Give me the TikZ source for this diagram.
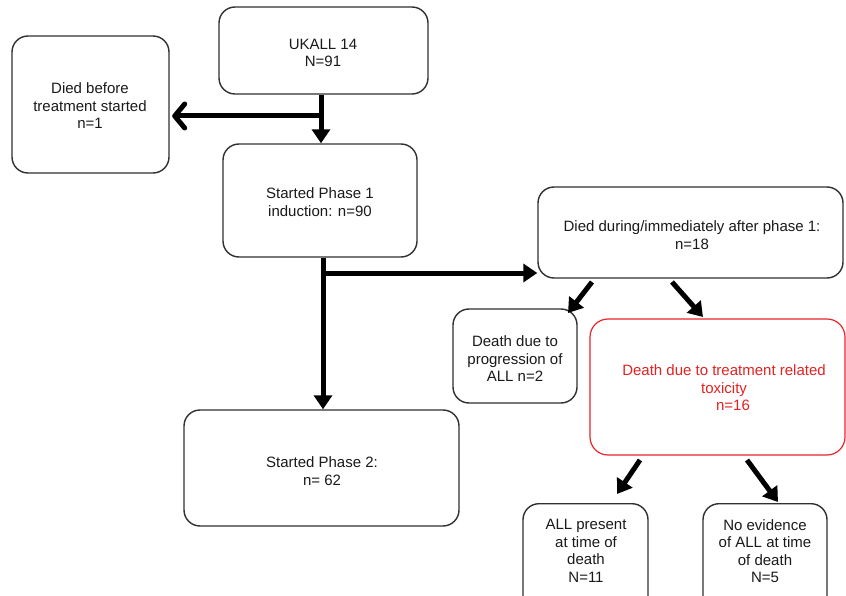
\documentclass[tikz,border=0pt]{standalone}
\usepackage{fontspec}
\setmainfont{Liberation Sans}
\usetikzlibrary{arrows.meta}
\definecolor{boxline}{HTML}{303030}
\definecolor{redline}{HTML}{E8262B}
\definecolor{redtext}{HTML}{E32222}
\definecolor{txtcol}{HTML}{1A1A1A}
\tikzset{
  box/.style={draw=boxline, line width=1.4pt, rounded corners=16pt, fill=white, inner sep=0pt},
  redbox/.style={draw=redline, line width=1.2pt, rounded corners=18pt, inner sep=0pt},
  txt/.style={align=center, text=txtcol, font=\fontsize{15pt}{17.5pt}\selectfont, inner sep=0pt},
  flow/.style={line width=5pt, black},
  arrT/.style={flow, -{Triangle[length=14pt,width=18pt]}},
  arrB/.style={flow, -{Straight Barb[length=10pt,width=24pt,line cap=round,line join=round]}},
}
\begin{document}
\begin{tikzpicture}[x=1pt,y=-1pt]
\clip (0,0) rectangle (846,596);
\fill[white] (0,0) rectangle (846,596);
% boxes
\node[box, minimum width=209pt, minimum height=87pt] (uk) at (323.5,50.5) {};
\node[txt] (ukT) at (323,53) {UKALL 14\\N=91};
\node[box, minimum width=157pt, minimum height=137pt] (died0) at (90.5,104.5) {};
\node[txt] (died0T) at (90,106) {Died before\\treatment started\\n=1};
\node[box, minimum width=194pt, minimum height=113pt] (ph1) at (320,200.5) {};
\node[txt] (ph1T) at (320,202) {Started Phase 1\\induction: n=90};
\node[box, minimum width=305pt, minimum height=91pt] (dd) at (690.5,232.5) {};
\node[txt] (ddT) at (692,235) {Died during/immediately after phase 1:\\n=18};
\node[box, minimum width=124pt, minimum height=94pt] (prog) at (515,356) {};
\node[txt] (progT) at (515,359) {Death due to\\progression of\\ALL n=2};
\node[redbox, minimum width=255pt, minimum height=136pt] (tox) at (717.5,387) {};
\node[txt, text=redtext] (toxT) at (724,388) {Death due to treatment related\\toxicity\\\hspace*{18pt}n=16};
\node[box, minimum width=275pt, minimum height=116pt] (ph2) at (321.5,468) {};
\node[txt] (ph2T) at (322,471) {Started Phase 2:\\n= 62};
\node[box, minimum width=125pt, minimum height=130pt, anchor=north] (allp) at (585.5,503) {};
\node[txt] (allpT) at (586,551) {ALL present\\at time of\\death\\N=11};
\node[box, minimum width=124pt, minimum height=130pt, anchor=north] (noev) at (765,503) {};
\node[txt] (noevT) at (765,551) {No evidence\\of ALL at time\\of death\\N=5};
% junctions
\coordinate (j1) at (321,116);
\coordinate (j2) at (323,273);
\draw[arrT] (uk.south -| j1) -- (ph1.north -| j1);
\draw[arrB] (j1) -- ([xshift=2.5pt]died0.east |- j1);
\draw[arrT] (ph1.south -| j2) -- (ph2.north -| j2);
\draw[arrT] ([xshift=-2.5pt]j2) -- (dd.west |- j2);
% diagonal arrows
\coordinate (d1s) at (592,282);
\coordinate (d1e) at (568,313);
\coordinate (d2s) at (672,282);
\coordinate (d2e) at (703,317);
\coordinate (t1s) at (640,460);
\coordinate (t1e) at (617,494);
\coordinate (t2s) at (747,460);
\coordinate (t2e) at (778,502);
\draw[arrT] (d1s) -- (d1e);
\draw[arrT] (d2s) -- (d2e);
\draw[arrT] (t1s) -- (t1e);
\draw[arrT] (t2s) -- (t2e);
\end{tikzpicture}
\end{document}
